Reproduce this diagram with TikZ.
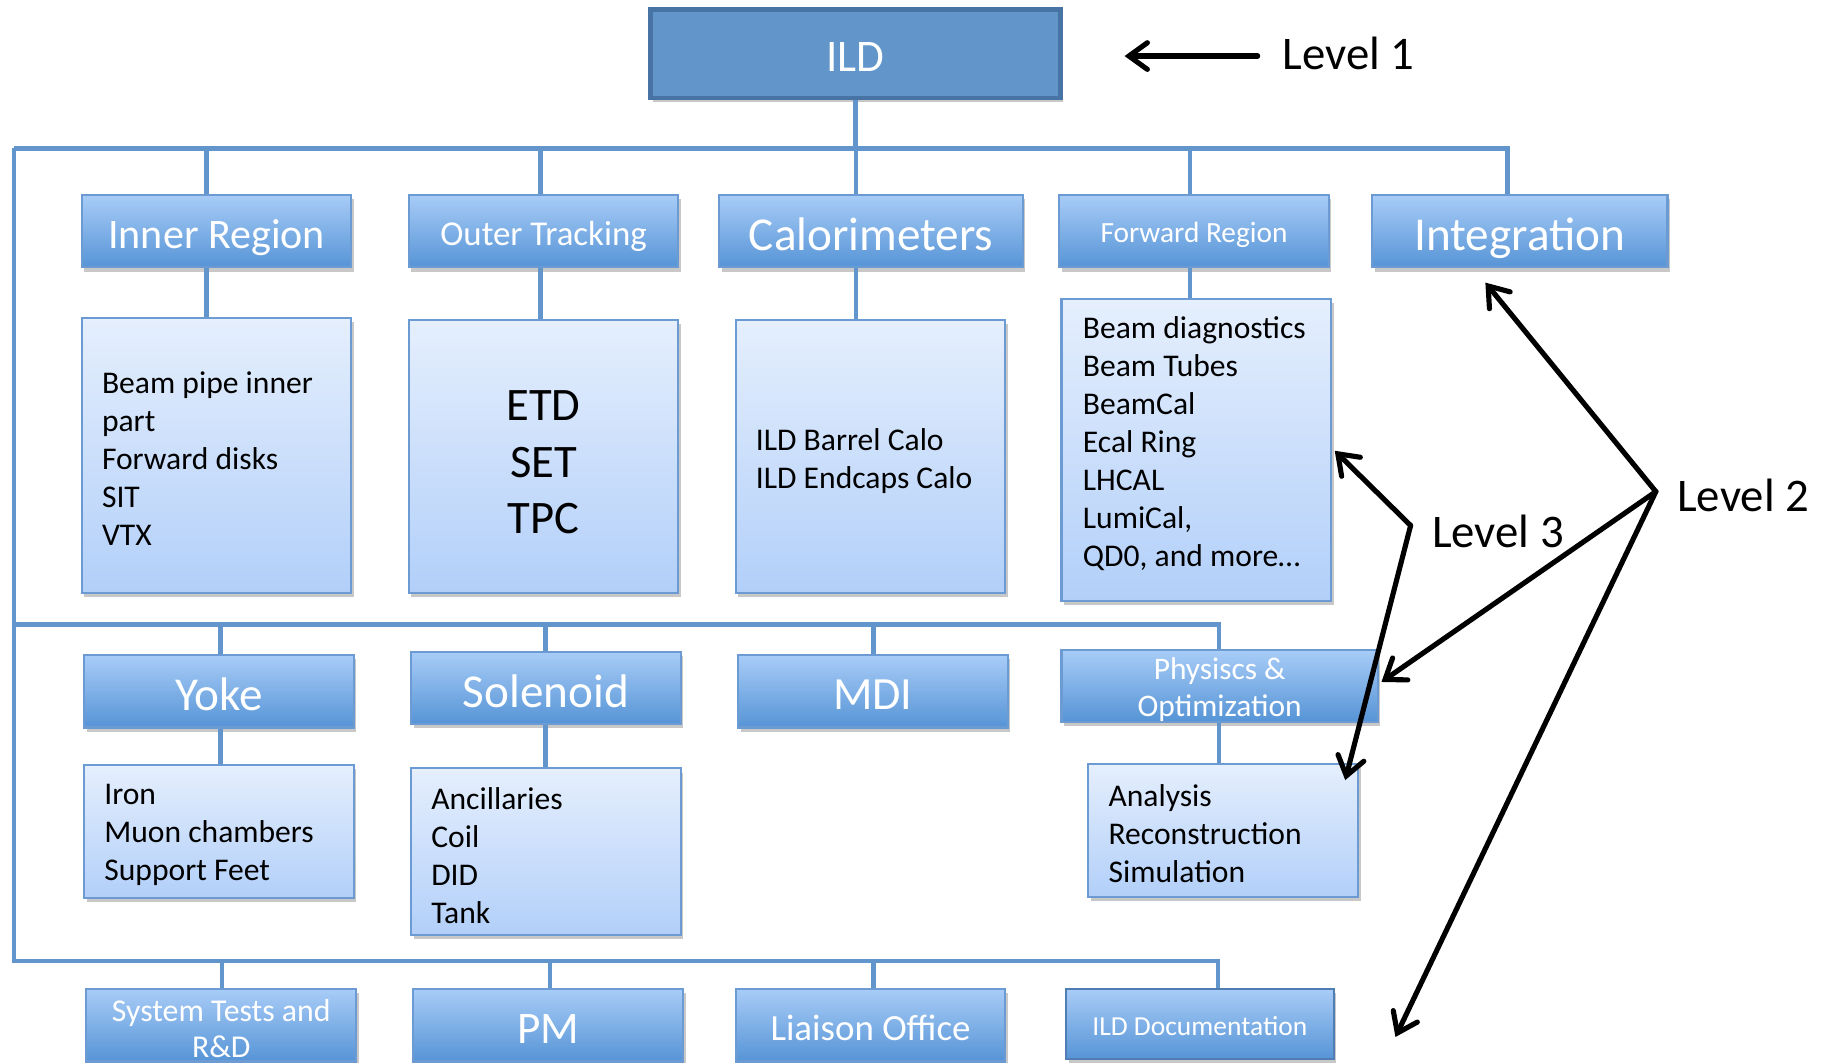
\documentclass[tikz,border=0pt]{standalone}
\usepackage{fontspec}
\setmainfont{Carlito}
\usetikzlibrary{arrows.meta,shadows}
\definecolor{connc}{RGB}{98,149,204}
\definecolor{boxedge}{RGB}{108,155,212}
\definecolor{ltop}{RGB}{168,204,247}
\definecolor{lbot}{RGB}{86,148,214}
\definecolor{mtop}{RGB}{229,239,253}
\definecolor{mbot}{RGB}{178,207,249}
\definecolor{ildfill}{RGB}{98,150,202}
\definecolor{ildedge}{RGB}{72,116,165}
\definecolor{docedge}{RGB}{80,125,180}
\tikzset{
  shad/.style={drop shadow={shadow xshift=1.2pt,shadow yshift=-2pt,opacity=0.3,fill=black!70}},
  l2box/.style={draw=boxedge,line width=1pt,top color=ltop,bottom color=lbot,text=white,
    inner sep=0pt,minimum width=4.62cm,minimum height=1.24cm,align=center,shad},
  oneline/.style={text height=#1,text depth=0pt},
  l3box/.style={draw=boxedge,line width=1pt,top color=mtop,bottom color=mbot,
    inner sep=0pt,minimum width=4.62cm,shad},
  txt/.style={inner sep=0pt,align=left,anchor=west,font=\fontsize{15.4}{18.5}\selectfont},
  conn/.style={draw=connc,line width=2.3pt},
  arr/.style={line width=2.5pt,line cap=round,-{Straight Barb[length=9pt,width=13pt,line cap=round]}},
  lev/.style={inner sep=0pt,anchor=west,font=\fontsize{22.8}{26}\selectfont}
}
\begin{document}
\begin{tikzpicture}[x=0.02cm,y=-0.02cm]
\clip (0,0) rectangle (1568,910);
\fill[white] (0,0) rectangle (1568,910);

% Level 1
\node[draw=ildedge,line width=2.2pt,fill=ildfill,text=white,minimum width=7.02cm,minimum height=1.52cm,
  font=\fontsize{22}{26}\selectfont,oneline=17.6pt,shad] (ild) at (732.5,46) {ILD};

% Level 2, row 1
\node[l2box,oneline=16.4pt,font=\fontsize{20.5}{24}\selectfont] (inner) at (185.5,198) {Inner Region};
\node[l2box,oneline=13.6pt,font=\fontsize{17}{20}\selectfont] (outer) at (465.5,198) {Outer Tracking};
\node[l2box,oneline=18.4pt,minimum width=5.2cm,font=\fontsize{23}{27}\selectfont] (calo) at (746,198) {Calorimeters};
\node[l2box,oneline=11.4pt,font=\fontsize{14.3}{17}\selectfont] (fwd) at (1022.5,198) {Forward Region};
\node[l2box,oneline=18.4pt,minimum width=5.06cm,font=\fontsize{23}{27}\selectfont] (integ) at (1301.5,198) {Integration};

% Level 3, row 1
\node[l3box,minimum height=4.72cm] (innerL) at (185.5,390) {};
\node[txt] (innerT) at (87,393) {Beam pipe inner\\part\\Forward disks\\SIT\\VTX};
\node[l3box,minimum height=4.68cm] (outerL) at (465.5,391) {};
\node[inner sep=0pt,align=center,font=\fontsize{22.7}{27.5}\selectfont] (outerT) at (465.5,396) {ETD\\SET\\TPC};
\node[l3box,minimum height=4.68cm] (caloL) at (745.5,391) {};
\node[txt] (caloT) at (647,395) {ILD Barrel Calo\\ILD Endcaps Calo};
\node[l3box,minimum height=5.18cm] (fwdL) at (1024.5,385.5) {};
\node[txt] (fwdT) at (927,380) {Beam diagnostics\\Beam Tubes\\BeamCal\\Ecal Ring\\LHCAL\\LumiCal,\\QD0, and more\ldots};

% Level 2, row 2
\node[l2box,oneline=18.4pt,font=\fontsize{23}{27}\selectfont] (yoke) at (187.5,592) {Yoke};
\node[l2box,oneline=19pt,font=\fontsize{23}{27}\selectfont] (sol) at (467.5,589) {Solenoid};
\node[l2box,oneline=18pt,font=\fontsize{22.5}{27}\selectfont] (mdi) at (747.5,592) {MDI};
\node[l2box,minimum width=5.42cm,minimum height=1.22cm] (phys) at (1044.5,587.5) {};
\node[inner sep=0pt,align=center,text=white,font=\fontsize{15.3}{18.3}\selectfont] (physH) at (1044.5,590.5) {Physiscs \&\\Optimization};

% Level 3, row 2
\node[l3box,minimum height=2.28cm] (yokeL) at (187.5,712) {};
\node[txt] (yokeT) at (89,715) {Iron\\Muon chambers\\Support Feet};
\node[l3box,minimum height=2.86cm] (solL) at (467.5,729.5) {};
\node[txt] (solT) at (369,733) {Ancillaries\\Coil\\DID\\Tank};
\node[l3box,minimum height=2.28cm] (physL) at (1047.5,711) {};
\node[txt] (physT) at (949,714) {Analysis\\Reconstruction\\Simulation};

% Level 2, row 3
\node[l2box] (sys) at (189.5,878) {};
\node[inner sep=0pt,align=center,text=white,font=\fontsize{15.5}{17.5}\selectfont] (sysH) at (189.5,881) {System Tests and\\R\&D};
\node[l2box,oneline=17.6pt,font=\fontsize{22}{26}\selectfont] (pm) at (469.5,878) {PM};
\node[l2box,oneline=14.4pt,font=\fontsize{18}{21}\selectfont] (liaison) at (745.5,878) {Liaison Office};
\node[l2box,oneline=10.7pt,draw=docedge,minimum width=4.58cm,minimum height=1.2cm,font=\fontsize{13.4}{16}\selectfont] (doc) at (1027.5,877) {ILD Documentation};

% buses
\coordinate (b1L) at (12,127); \coordinate (b1R) at (1291,127);
\coordinate (b2L) at (12,535); \coordinate (b2R) at (1044,535);
\coordinate (b3L) at (12,823); \coordinate (b3R) at (1043,823);
\draw[conn] (ild.south) -- (ild.south |- b1L);
\draw[conn] (b1L) -- (b1R) -- (b1R |- integ.north);
\draw[conn] (b1L) -- (b3L) -- (b3R) -- (b3R |- doc.north);
\draw[conn] (b2L) -- (b2R) -- (b2R |- phys.north);
\draw[conn] (phys.south -| b2R) -- (b2R |- physL.north);

% drops
\coordinate (dinner) at (177,127);
\coordinate (douter) at (463,127);
\coordinate (dcalo) at (733,127);
\coordinate (dfwd) at (1019,127);
\coordinate (dyoke) at (189,535);
\coordinate (dsol) at (467,535);
\coordinate (dmdi) at (748,535);
\coordinate (dsys) at (190,823);
\coordinate (dpm) at (471,823);
\coordinate (dlia) at (748,823);
\draw[conn] (dinner) -- (dinner |- inner.north);
\draw[conn] (inner.south -| dinner) -- (dinner |- innerL.north);
\draw[conn] (douter) -- (douter |- outer.north);
\draw[conn] (outer.south -| douter) -- (douter |- outerL.north);
\draw[conn] (dcalo) -- (dcalo |- calo.north);
\draw[conn] (calo.south -| dcalo) -- (dcalo |- caloL.north);
\draw[conn] (dfwd) -- (dfwd |- fwd.north);
\draw[conn] (fwd.south -| dfwd) -- (dfwd |- fwdL.north);
\draw[conn] (dyoke) -- (dyoke |- yoke.north);
\draw[conn] (yoke.south -| dyoke) -- (dyoke |- yokeL.north);
\draw[conn] (dsol) -- (dsol |- sol.north);
\draw[conn] (sol.south -| dsol) -- (dsol |- solL.north);
\draw[conn] (dmdi) -- (dmdi |- mdi.north);
\draw[conn] (dsys) -- (dsys |- sys.north);
\draw[conn] (dpm) -- (dpm |- pm.north);
\draw[conn] (dlia) -- (dlia |- liaison.north);

% level labels and arrows
\node[lev] (lev1) at (1098,46) {Level 1};
\node[lev] (lev2) at (1436,424) {Level 2};
\node[lev] (lev3) at (1226,455) {Level 3};
\coordinate (a1s) at (1077,48); \coordinate (a1e) at (963,48);
\draw[arr] (a1s) -- (a1e);
\coordinate (h2) at (1418,421);
\coordinate (t2a) at (1272,242);
\coordinate (t2b) at (1183,584);
\coordinate (t2c) at (1195,888);
\draw[arr] (h2) -- (t2a);
\draw[arr] (h2) -- (t2b);
\draw[arr] (h2) -- (t2c);
\coordinate (h3) at (1208,450);
\coordinate (t3a) at (1143,386);
\coordinate (t3b) at (1152,668);
\draw[arr] (h3) -- (t3a);
\draw[arr] (h3) -- (t3b);
\end{tikzpicture}
\end{document}
